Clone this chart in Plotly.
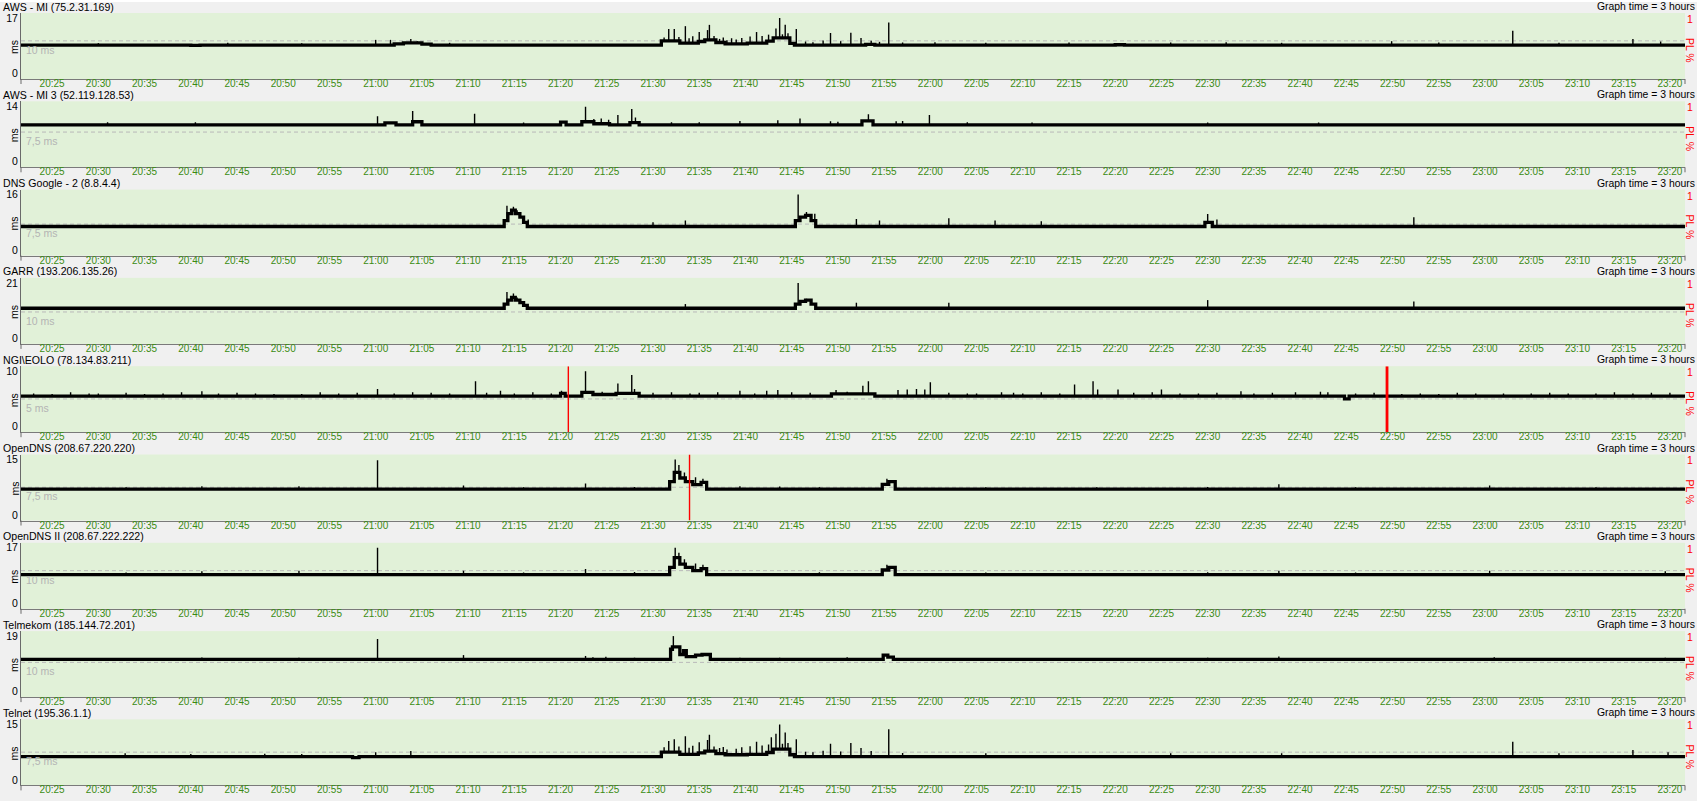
import plotly.graph_objects as go

W, H = 1697, 801

# ---------------- data ----------------
titles = ["AWS - MI (75.2.31.169)", "AWS - MI 3 (52.119.128.53)", "DNS Google - 2 (8.8.4.4)",
          "GARR (193.206.135.26)", "NGI\\EOLO (78.134.83.211)", "OpenDNS (208.67.220.220)",
          "OpenDNS II (208.67.222.222)", "Telmekom (185.144.72.201)", "Telnet (195.36.1.1)"]
y_max = [17, 14, 16, 21, 10, 15, 17, 19, 15]
ref_ms = [10, 7.5, 7.5, 10, 5, 7.5, 10, 10, 7.5]
ref_lbl = ["10 ms", "7,5 ms", "7,5 ms", "10 ms", "5 ms", "7,5 ms", "10 ms", "10 ms", "7,5 ms"]
window = ["20:21:38", "23:21:38"]
graph_time = "Graph time = 3 hours"
tick_labels = ["20:25", "20:30", "20:35", "20:40", "20:45", "20:50", "20:55", "21:00", "21:05",
               "21:10", "21:15", "21:20", "21:25", "21:30", "21:35", "21:40", "21:45", "21:50",
               "21:55", "22:00", "22:05", "22:10", "22:15", "22:20", "22:25", "22:30", "22:35",
               "22:40", "22:45", "22:50", "22:55", "23:00", "23:05", "23:10", "23:15", "23:20"]

# times are minutes after 20:00; step series (value holds until next time)
aws_t = [21, 40, 41, 62, 63, 65, 66, 90.9, 92.9, 94.9, 95.6, 96.8, 97.8, 100.2, 102.3, 103, 104.8, 105.3, 113, 114, 140, 141, 202]
aws_v = [8.7, 8.6, 8.7, 9.1, 9.4, 9.0, 8.7, 10.0, 9.3, 9.8, 10.3, 9.5, 9.1, 9.3, 9.9, 10.9, 9.2, 8.7, 8.9, 8.7, 8.8, 8.7, 8.7]
aws_spk_t = [30, 44, 52, 60.0, 61.6, 63.8, 64.5, 68, 91.2, 91.7, 92.3, 92.8, 93.5, 93.9, 94.3, 95.0, 95.9, 96.1, 96.6,
             97.2, 97.6, 98.0, 98.5, 99.0, 99.6, 100.5, 101.2, 101.8, 102.5, 103.3, 103.7, 104.0, 104.3, 104.6, 105.5,
             106.5, 107.3, 108.4, 109.2, 110.3, 111.4, 112.5, 113.6, 114.5, 115.5, 117, 120.5, 126, 135, 146, 152,
             158, 169.9, 175, 183.0, 188, 196.0, 199]
aws_spk_v = [9.3, 9.4, 9.3, 10.3, 10.3, 10.6, 9.9, 9.4, 11.0, 13.6, 13.6, 11.2, 14.5, 10.8, 11.4, 12.7, 13.3, 14.9, 11.5,
             10.6, 11.0, 10.2, 10.8, 10.4, 10.9, 11.3, 12.7, 11.5, 11.9, 13.8, 17.0, 12.0, 14.9, 12.3, 13.6,
             9.8, 9.6, 10.1, 12.4, 9.9, 12.5, 10.9, 10.0, 9.7, 15.6, 9.5, 9.6, 9.4, 9.5, 9.5, 9.6,
             9.4, 9.9, 9.5, 13.1, 9.4, 10.6, 9.8]

aws3_t = [21, 61, 62.2, 64, 65, 80, 80.6, 82.3, 83.6, 85.3, 87.5, 88.5, 112.6, 113.8, 202]
aws3_v = [9.3, 9.8, 9.3, 10.1, 9.3, 10.0, 9.3, 10.1, 9.6, 9.3, 9.9, 9.3, 10.3, 9.3, 9.3]
aws3_spk_t = [31, 40.5, 60.2, 64.0, 70.7, 76, 82.7, 83.6, 84.4, 85.2, 86.2, 87.7, 88.1, 92, 95, 99.4, 103.5, 105.9,
              109.2, 110, 113.3, 116.3, 117, 119.9, 124, 131, 150, 162]
aws3_spk_v = [10.0, 10.0, 11.5, 12.8, 12.1, 9.9, 13.9, 10.8, 10.9, 10.6, 11.8, 13.3, 11.2, 10.0, 10.0, 10.3, 10.5, 10.9,
              10.2, 10.1, 12.0, 10.2, 10.3, 11.8, 10.0, 9.9, 9.9, 9.9]

dns_t = [21, 73.9, 74.3, 74.7, 75.1, 75.6, 76.0, 76.4, 105.4, 105.9, 106.5, 107.1, 107.6, 149.7, 150.5, 202]
dns_v = [6.8, 8.5, 10.5, 11.5, 10.5, 9.5, 8.0, 6.8, 8.5, 9.5, 10.0, 8.5, 6.8, 8.0, 6.8, 6.8]
dns_spk_t = [74.2, 74.9, 75.3, 76.5, 90, 93.5, 105.7, 106.6, 107.5, 112, 114.5, 122, 127, 132, 150, 151, 172.3]
dns_spk_v = [12.8, 12.5, 11.5, 8.8, 8.0, 8.5, 16.0, 11.0, 10.5, 9.0, 8.5, 9.2, 8.5, 8.3, 10.4, 8.8, 9.5]

garr_t = [21, 73.9, 74.3, 74.7, 75.1, 75.6, 76.0, 76.4, 105.4, 105.9, 106.5, 107.1, 107.6, 202]
garr_v = [11.4, 13, 14.5, 15.5, 14.5, 13.5, 12.5, 11.4, 13, 14, 14.5, 13, 11.4, 11.4]
garr_spk_t = [74.2, 74.9, 75.3, 93.5, 105.7, 106.6, 112, 122, 150, 172.3]
garr_spk_v = [17.6, 17.0, 15.5, 13.0, 21.0, 15.0, 13.5, 13.5, 14.5, 14.0]

eolo_t = [21, 80, 80.5, 82.3, 83.5, 86, 88.5, 109.3, 114, 164.8, 165.3, 202]
eolo_v = [5.5, 6.0, 5.5, 6.2, 5.8, 6.0, 5.5, 5.9, 5.5, 5.0, 5.5, 5.5]
eolo_spk_t = [23, 25, 27, 29, 30, 33, 35, 37, 39, 41.2, 43, 45, 47, 49, 52, 54, 56, 58, 60.2, 62, 64, 66, 68,
              70.8, 72, 73.5, 75, 77, 79, 80.1, 82.7, 83.3, 84.5, 86.2, 87.7, 88.0, 90, 92, 94, 95, 97, 99.4,
              101, 102.3, 103.5, 105, 107, 109.8, 111, 112.7, 113.3, 116.5, 117.5, 118.5, 119.4, 120.0, 122,
              124, 125, 127.7, 129, 130, 132, 134, 135.6, 137.6, 138.1, 140.3, 142, 144, 145, 147, 149, 151,
              153.6, 155, 157, 159.5, 162.2, 163, 166, 168, 171, 173, 175, 177, 179, 182, 185, 187, 189, 192,
              194, 196, 198, 200]
eolo_spk_v = [6.0, 5.9, 6.2, 6.0, 6.0, 6.1, 5.9, 6.0, 6.2, 6.4, 6.0, 6.1, 6.0, 5.9, 5.9, 6.2, 6.0, 6.1, 6.8, 6.0,
              6.2, 6.1, 6.0, 8.2, 6.1, 6.5, 6.0, 6.2, 6.0, 6.5, 10.0, 6.4, 6.3, 7.8, 9.3, 6.8, 6.1, 6.2, 6.0,
              6.1, 6.2, 6.5, 6.0, 6.5, 6.6, 6.2, 6.1, 6.6, 6.3, 7.4, 8.2, 6.6, 6.7, 6.8, 6.7, 8.0, 6.1, 6.0, 6.0,
              6.2, 6.1, 6.0, 6.2, 6.0, 7.6, 8.2, 6.7, 6.7, 6.1, 6.2, 6.7, 6.0, 6.0, 6.1, 6.4, 6.0, 6.1, 6.2,
              6.3, 6.2, 6.0, 6.1, 5.9, 6.0, 5.9, 6.1, 6.0, 6.0, 6.0, 6.1, 6.0, 6.0, 6.2, 6.0, 6.1, 6.1]
eolo_pl_t = [80.84, 169.4]
eolo_pl_v = [1, 1]
eolo_pl_n = [1, 2]

odns_t = [21, 91.8, 92.3, 92.9, 93.5, 94.3, 95.2, 95.8, 114.8, 115.5, 116.2, 202]
odns_v = [7.0, 9.0, 11.5, 10.0, 9.0, 8.2, 8.8, 7.0, 8.3, 9.0, 7.0, 7.0]
odns_spk_t = [33, 41.2, 51.7, 60.2, 69.5, 76, 82.7, 88, 92.4, 92.8, 93.4, 94.6, 95.4, 99.4, 103.7, 108, 115.3, 126,
              138, 150, 157.7, 166, 180.5, 192]
odns_spk_v = [7.5, 7.8, 7.8, 14.8, 8.0, 7.5, 8.5, 7.6, 15.0, 13.5, 11.5, 10.2, 9.8, 7.8, 7.7, 7.5, 9.8, 7.5,
              7.5, 7.6, 8.3, 7.5, 8.0, 7.5]
odns_pl_t = [93.95]
odns_pl_v = [1]
odns_pl_n = [1]

odns2_t = [21, 91.8, 92.3, 92.9, 93.5, 94.3, 95.2, 95.8, 114.8, 115.5, 116.2, 202]
odns2_v = [8.8, 11, 14, 12, 11, 10, 10.6, 8.8, 10.2, 11, 8.8, 8.8]
odns2_spk_t = [33, 41.2, 51.7, 60.2, 69.5, 76, 82.7, 88, 92.4, 92.8, 93.4, 94.6, 95.4, 108, 115.3, 126, 150, 157.7,
               166, 180.5, 199.5]
odns2_spk_v = [9.4, 9.8, 10.0, 17.0, 10.0, 9.4, 10.5, 9.6, 17.0, 15.5, 13.5, 12.2, 11.8, 9.5, 11.8, 9.4, 9.5, 10.0,
               9.4, 10.0, 9.8]

telm_t = [21, 91.9, 92.1, 92.9, 93.3, 93.6, 94.6, 95.3, 96.2, 114.9, 115.4, 116, 202]
telm_v = [11, 14.5, 15.3, 12.7, 14, 12, 12.5, 12.7, 11, 12.5, 11.8, 11, 11]
telm_spk_t = [33, 41.2, 51.7, 60.2, 69.5, 76, 82.7, 83.5, 84.9, 88, 92.2, 99.4, 103.7, 111, 115.1, 126, 150, 157.7,
              166, 181, 199.5]
telm_spk_v = [11.5, 11.7, 11.6, 18.0, 12.5, 11.5, 12.2, 11.8, 11.9, 11.6, 19.0, 11.6, 11.6, 11.8, 12.8, 11.5, 11.6,
              12.0, 11.5, 11.8, 11.6]

teln_t = [21, 57.5, 58.2, 90.9, 92.9, 94.9, 95.6, 96.8, 97.8, 100.2, 102.3, 103, 104.8, 105.3, 202]
teln_v = [6.3, 6.0, 6.3, 7.5, 6.9, 7.3, 7.8, 7.1, 6.8, 6.9, 7.4, 8.3, 6.8, 6.3, 6.3]
teln_spk_t = [32.9, 40, 48, 52, 60, 63.8, 91.2, 91.7, 92.3, 92.8, 93.5, 93.9, 94.3, 95.0, 95.9, 96.1, 96.6, 97.2,
              97.6, 98.0, 99.0, 99.6, 100.5, 101.2, 101.8, 102.5, 102.8, 103.3, 103.7, 104.0, 104.3, 104.6, 105.5,
              106.5, 107.3, 108.4, 109.2, 110.3, 111.4, 112.5, 113.6, 115.5, 117, 126, 146, 158, 183.0, 188,
              196.0, 199.8]
teln_spk_v = [7.2, 7.0, 7.1, 7.0, 7.5, 7.8, 8.8, 10.5, 11.0, 9.0, 11.8, 8.7, 9.2, 10.2, 10.8, 12.2, 9.0, 8.6,
              8.9, 8.2, 8.4, 8.8, 9.1, 10.3, 9.3, 9.6, 11.5, 12.5, 15.0, 9.8, 12.8, 10.0, 11.0,
              7.6, 7.5, 7.9, 9.8, 7.7, 10.0, 8.6, 7.8, 13.7, 7.3, 7.2, 7.2, 7.2, 10.3, 7.2,
              8.1, 7.5]

series = [
    (aws_t, aws_v, aws_spk_t, aws_spk_v, [], [], []),
    (aws3_t, aws3_v, aws3_spk_t, aws3_spk_v, [], [], []),
    (dns_t, dns_v, dns_spk_t, dns_spk_v, [], [], []),
    (garr_t, garr_v, garr_spk_t, garr_spk_v, [], [], []),
    (eolo_t, eolo_v, eolo_spk_t, eolo_spk_v, eolo_pl_t, eolo_pl_v, eolo_pl_n),
    (odns_t, odns_v, odns_spk_t, odns_spk_v, odns_pl_t, odns_pl_v, odns_pl_n),
    (odns2_t, odns2_v, odns2_spk_t, odns2_spk_v, [], [], []),
    (telm_t, telm_v, telm_spk_t, telm_spk_v, [], [], []),
    (teln_t, teln_v, teln_spk_t, teln_spk_v, [], [], []),
]

# ---------------- helpers ----------------
def to_min(s):
    p = [int(a) for a in s.split(":")]
    return (p[0] - 20) * 60 + p[1] + (p[2] / 60 if len(p) > 2 else 0)

def level_at(t, ts, vs):
    lv = vs[0]
    for a, b in zip(ts, vs):
        if a <= t:
            lv = b
        else:
            break
    return lv

x0, x1 = to_min(window[0]), to_min(window[1])
tick_pos = [to_min(s) for s in tick_labels]

FONT = "Liberation Sans, Arial, sans-serif"
TOP0, STEP, PH = 13.0, 88.3, 66.0
XL, XR = 21.0, 1685.0
GREEN = "#e1f1d8"
TICKCOL = "#3a8c12"

fig = go.Figure()
layout = dict(width=W, height=H, margin=dict(l=0, r=0, t=0, b=0),
              paper_bgcolor="#f0f0f0", plot_bgcolor=GREEN, showlegend=False,
              font=dict(family=FONT, size=10, color="black"))
shapes, annotations = [], []

for k in range(9):
    n = k + 1
    sfx = "" if n == 1 else str(n)
    top = TOP0 + STEP * k
    bot = top + PH
    ymx = y_max[k]
    layout["xaxis" + sfx] = dict(domain=[XL / W, XR / W], range=[x0, x1], anchor="y" + sfx,
                                 tickvals=tick_pos, ticktext=tick_labels, showgrid=False, zeroline=False,
                                 showline=True, linecolor="#7a7a7a", linewidth=1, ticks="",
                                 ticklabelstandoff=-5,
                                 tickfont=dict(size=10, color=TICKCOL, family=FONT), fixedrange=True)
    layout["yaxis" + sfx] = dict(domain=[1 - bot / H, 1 - top / H],
                                 range=[-0.0991 * ymx, 1.0901 * ymx], anchor="x" + sfx,
                                 tickvals=[0, ymx], ticktext=["0", str(ymx)], showgrid=False, zeroline=False,
                                 showline=True, linecolor="#6a6a6a", linewidth=1, ticks="",
                                 tickfont=dict(size=10.5, color="black", family=FONT), fixedrange=True)
    pl_id = str(n + 9)
    layout["yaxis" + pl_id] = dict(domain=[1 - bot / H, 1 - top / H], range=[0, 1], anchor="x" + sfx,
                                   overlaying="y" + sfx, side="right", visible=False, fixedrange=True)

    ts, vs, st, sv, plt_, plv, pln = series[k]
    # reference dashed line
    shapes.append(dict(type="line", xref="x" + sfx + " domain", yref="y" + sfx, x0=0, x1=1,
                       y0=ref_ms[k], y1=ref_ms[k], line=dict(color="#b9b9b9", width=1, dash="4px,3px"),
                       layer="below"))
    annotations.append(dict(xref="paper", yref="y" + sfx, x=24 / W, y=ref_ms[k], yshift=-9,
                            text=ref_lbl[k], showarrow=False, xanchor="left", yanchor="middle",
                            font=dict(size=10.5, color="#b4b4b4", family=FONT)))
    # packet loss markers
    for t, v, c in zip(plt_, plv, pln):
        fig.add_trace(go.Scatter(x=[t, t], y=[0, min(v, 1)], mode="lines",
                                 line=dict(color="#ff0000", width=1.4 * c),
                                 xaxis="x" + sfx, yaxis="y" + pl_id, hoverinfo="skip"))
    # base line
    fig.add_trace(go.Scatter(x=ts, y=vs, mode="lines", line=dict(shape="hv", width=3.3, color="black"),
                             xaxis="x" + sfx, yaxis="y" + sfx, hoverinfo="skip"))
    # spikes
    sx, sy = [], []
    for t, v in zip(st, sv):
        sx += [t, t, None]
        sy += [level_at(t, ts, vs), v, None]
    fig.add_trace(go.Scatter(x=sx, y=sy, mode="lines", line=dict(width=1.4, color="black"),
                             xaxis="x" + sfx, yaxis="y" + sfx, hoverinfo="skip"))

    # texts
    annotations.append(dict(xref="paper", yref="paper", x=1 / W, y=1 - (top - 6.5) / H, text=titles[k],
                            showarrow=False, xanchor="left", yanchor="middle",
                            font=dict(size=10.6, color="black", family=FONT)))
    annotations.append(dict(xref="paper", yref="paper", x=1.0, y=1 - (top - 6.5) / H, text=graph_time,
                            showarrow=False, xanchor="right", yanchor="middle",
                            font=dict(size=10.4, color="black", family=FONT)))
    annotations.append(dict(xref="paper", yref="paper", x=14 / W, y=1 - (top + 34) / H, text="ms",
                            showarrow=False, textangle=-90, xanchor="center", yanchor="middle",
                            font=dict(size=10.5, color="black", family=FONT)))
    annotations.append(dict(xref="paper", yref="paper", x=1690 / W, y=1 - (top + 6) / H, text="1",
                            showarrow=False, xanchor="center", yanchor="middle",
                            font=dict(size=10.5, color="#ff0000", family=FONT)))
    annotations.append(dict(xref="paper", yref="paper", x=1690 / W, y=1 - (top + 37) / H, text="PL %",
                            showarrow=False, textangle=90, xanchor="center", yanchor="middle",
                            font=dict(size=10.5, color="#ff0000", family=FONT)))
    # end ticks below the time axis
    for xe in (XL, XR):
        shapes.append(dict(type="line", xref="paper", yref="paper", x0=xe / W, x1=xe / W,
                           y0=1 - bot / H, y1=1 - (bot + 5) / H, line=dict(color="#6a6a6a", width=1)))

shapes.append(dict(type="line", xref="paper", yref="paper", x0=0, x1=1, y0=1 - 1 / H, y1=1 - 1 / H,
                   line=dict(color="#ffffff", width=2)))
layout["shapes"] = shapes
layout["annotations"] = annotations
fig.update_layout(**layout)

fig.write_html("out.html", config={"displayModeBar": False, "staticPlot": True},
               post_script="document.body.style.margin='0';")
